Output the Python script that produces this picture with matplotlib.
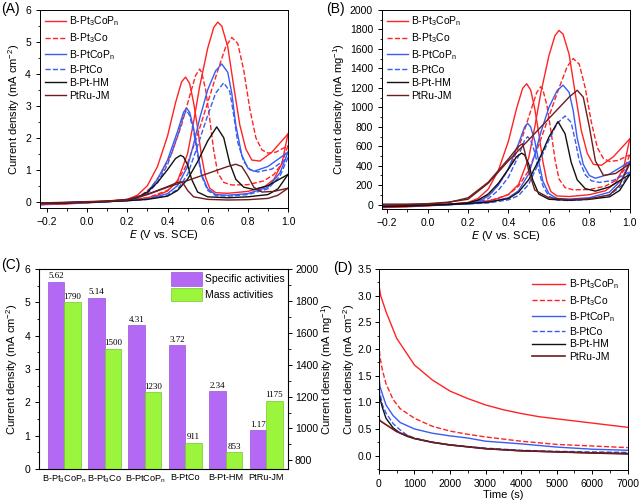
import matplotlib.pyplot as plt
from matplotlib.ticker import AutoMinorLocator, MultipleLocator

plt.rcParams['font.family'] = ['Liberation Sans', 'DejaVu Sans']
plt.rcParams['mathtext.default'] = 'regular'

# ---------------- data ----------------
names = ['B-Pt$_3$CoP$_n$', 'B-Pt$_3$Co', 'B-PtCoP$_n$', 'B-PtCo', 'B-Pt-HM', 'PtRu-JM']
colors = ['#ff2323', '#ff2323', '#3a5cf0', '#3a5cf0', '#111111', '#6e1c1c']
styles = ['-', '--', '-', '--', '-', '-']

# CV forward / reverse scans: potential (V vs. SCE), specific (mA cm-2), mass (mA mg-1)
e_fwd_1 = [-0.23, -0.1, 0.0, 0.1, 0.2, 0.3, 0.35, 0.4, 0.45, 0.5, 0.53, 0.56, 0.6, 0.63, 0.65, 0.67, 0.7, 0.73, 0.76, 0.79, 0.82, 0.86, 0.92, 1.0]
js_fwd_1 = [-0.10, -0.07, -0.04, 0.0, 0.05, 0.12, 0.2, 0.33, 0.65, 1.5, 2.5, 3.6, 4.8, 5.45, 5.62, 5.5, 4.85, 3.6, 2.4, 1.65, 1.3, 1.27, 1.55, 2.12]
jm_fwd_1 = [-32, -22, -13, 0, 16, 38, 64, 105, 207, 478, 796, 1147, 1529, 1736, 1790, 1752, 1545, 1147, 764, 526, 414, 404, 494, 675]
e_rev_1 = [1.0, 0.97, 0.93, 0.88, 0.8, 0.7, 0.64, 0.61, 0.59, 0.57, 0.55, 0.53, 0.51, 0.49, 0.47, 0.44, 0.4, 0.35, 0.3, 0.25, 0.2, 0.1, 0.0, -0.1, -0.23]
js_rev_1 = [2.12, 1.2, 0.7, 0.45, 0.32, 0.26, 0.28, 0.42, 0.75, 1.4, 2.3, 3.1, 3.7, 3.9, 3.75, 3.1, 2.05, 1.1, 0.5, 0.2, 0.07, 0.01, -0.03, -0.06, -0.09]
jm_rev_1 = [675, 382, 223, 143, 102, 83, 89, 134, 239, 446, 733, 987, 1178, 1242, 1194, 987, 653, 350, 159, 64, 22, 3, -10, -19, -29]

e_fwd_2 = [-0.23, -0.1, 0.0, 0.1, 0.2, 0.3, 0.4, 0.45, 0.5, 0.55, 0.6, 0.65, 0.69, 0.72, 0.75, 0.78, 0.81, 0.84, 0.87, 0.9, 0.94, 1.0]
js_fwd_2 = [-0.09, -0.06, -0.03, 0.0, 0.04, 0.12, 0.35, 0.65, 1.2, 2.1, 3.1, 4.1, 4.85, 5.14, 4.95, 4.1, 2.9, 2.0, 1.62, 1.52, 1.55, 1.75]
jm_fwd_2 = [-26, -18, -9, 0, 12, 35, 102, 190, 350, 613, 905, 1197, 1416, 1501, 1445, 1197, 847, 584, 473, 444, 453, 511]
e_rev_2 = [1.0, 0.97, 0.93, 0.88, 0.8, 0.72, 0.68, 0.65, 0.63, 0.61, 0.59, 0.57, 0.56, 0.54, 0.51, 0.47, 0.42, 0.37, 0.32, 0.27, 0.2, 0.1, 0.0, -0.1, -0.23]
js_rev_2 = [1.75, 1.2, 0.85, 0.65, 0.53, 0.52, 0.6, 0.9, 1.6, 2.6, 3.5, 4.05, 4.15, 3.95, 3.3, 2.4, 1.5, 0.9, 0.45, 0.2, 0.06, 0.01, -0.02, -0.05, -0.08]
jm_rev_2 = [511, 350, 248, 190, 155, 152, 175, 263, 467, 759, 1022, 1183, 1212, 1153, 964, 701, 438, 263, 131, 58, 18, 3, -6, -15, -23]

e_fwd_3 = [-0.23, -0.1, 0.0, 0.1, 0.2, 0.3, 0.4, 0.45, 0.5, 0.53, 0.56, 0.6, 0.64, 0.67, 0.7, 0.72, 0.74, 0.77, 0.8, 0.83, 0.9, 1.0]
js_fwd_3 = [-0.08, -0.05, -0.03, 0.0, 0.03, 0.08, 0.25, 0.5, 1.1, 1.8, 2.6, 3.5, 4.1, 4.31, 4.05, 3.4, 2.4, 1.45, 1.05, 0.95, 1.1, 1.55]
jm_fwd_3 = [-23, -14, -9, 0, 9, 23, 71, 143, 314, 513, 741, 998, 1169, 1228, 1154, 969, 684, 413, 299, 271, 314, 442]
e_rev_3 = [1.0, 0.96, 0.9, 0.8, 0.7, 0.64, 0.6, 0.57, 0.55, 0.53, 0.51, 0.495, 0.48, 0.45, 0.4, 0.35, 0.3, 0.25, 0.2, 0.1, 0.0, -0.1, -0.23]
js_rev_3 = [1.55, 0.9, 0.45, 0.25, 0.2, 0.22, 0.4, 0.85, 1.55, 2.3, 2.8, 2.93, 2.8, 2.2, 1.3, 0.7, 0.3, 0.12, 0.04, 0.0, -0.02, -0.04, -0.07]
jm_rev_3 = [442, 257, 128, 71, 57, 63, 114, 242, 442, 656, 798, 835, 798, 627, 371, 200, 86, 34, 11, 0, -6, -11, -20]

e_fwd_4 = [-0.23, -0.1, 0.0, 0.1, 0.2, 0.3, 0.4, 0.45, 0.5, 0.55, 0.6, 0.64, 0.68, 0.71, 0.73, 0.75, 0.78, 0.81, 0.85, 0.92, 1.0]
js_fwd_4 = [-0.07, -0.05, -0.03, 0.0, 0.03, 0.07, 0.2, 0.38, 0.85, 1.75, 2.7, 3.4, 3.72, 3.45, 2.7, 1.85, 1.25, 1.0, 0.93, 1.02, 1.38]
jm_fwd_4 = [-17, -12, -7, 0, 7, 17, 49, 93, 208, 429, 662, 833, 911, 845, 662, 453, 306, 245, 228, 250, 338]
e_rev_4 = [1.0, 0.96, 0.9, 0.8, 0.7, 0.64, 0.6, 0.57, 0.55, 0.53, 0.51, 0.495, 0.48, 0.45, 0.4, 0.35, 0.3, 0.25, 0.2, 0.1, 0.0, -0.1, -0.23]
js_rev_4 = [1.38, 0.8, 0.4, 0.22, 0.17, 0.19, 0.35, 0.8, 1.45, 2.2, 2.7, 2.85, 2.7, 2.05, 1.15, 0.6, 0.25, 0.1, 0.03, 0.0, -0.02, -0.04, -0.06]
jm_rev_4 = [338, 196, 98, 54, 42, 47, 86, 196, 355, 539, 662, 698, 662, 502, 282, 147, 61, 25, 7, 0, -5, -10, -15]

e_fwd_5 = [-0.23, -0.1, 0.0, 0.1, 0.2, 0.3, 0.4, 0.45, 0.5, 0.55, 0.6, 0.645, 0.68, 0.71, 0.74, 0.78, 0.83, 0.9, 1.0]
js_fwd_5 = [-0.06, -0.04, -0.02, 0.0, 0.03, 0.07, 0.17, 0.35, 0.7, 1.25, 1.9, 2.34, 2.0, 1.2, 0.7, 0.45, 0.38, 0.5, 0.85]
jm_fwd_5 = [-22, -15, -7, 0, 11, 26, 62, 128, 255, 456, 693, 853, 729, 437, 255, 164, 139, 182, 310]
e_rev_5 = [1.0, 0.95, 0.9, 0.8, 0.7, 0.6, 0.55, 0.52, 0.5, 0.48, 0.465, 0.44, 0.4, 0.35, 0.3, 0.25, 0.2, 0.1, 0.0, -0.1, -0.23]
js_rev_5 = [0.85, 0.4, 0.22, 0.15, 0.12, 0.15, 0.3, 0.7, 1.15, 1.4, 1.45, 1.35, 1.0, 0.6, 0.3, 0.13, 0.05, 0.01, -0.01, -0.03, -0.05]
jm_rev_5 = [310, 146, 80, 55, 44, 55, 109, 255, 419, 510, 529, 492, 365, 219, 109, 47, 18, 4, -4, -11, -18]

e_fwd_6 = [-0.23, -0.1, 0.0, 0.1, 0.2, 0.3, 0.4, 0.5, 0.6, 0.7, 0.74, 0.77, 0.8, 0.83, 0.87, 0.93, 1.0]
js_fwd_6 = [-0.05, -0.03, -0.01, 0.01, 0.05, 0.22, 0.45, 0.66, 0.88, 1.1, 1.17, 1.1, 0.8, 0.45, 0.3, 0.32, 0.42]
jm_fwd_6 = [5, 5, 10, 25, 55, 220, 450, 665, 885, 1105, 1175, 1105, 800, 450, 300, 320, 420]
e_rev_6 = [1.0, 0.95, 0.9, 0.8, 0.7, 0.6, 0.53, 0.5, 0.48, 0.47, 0.45, 0.4, 0.3, 0.2, 0.1, 0.0, -0.1, -0.23]
js_rev_6 = [0.42, 0.2, 0.1, 0.06, 0.05, 0.07, 0.15, 0.35, 0.55, 0.62, 0.6, 0.47, 0.23, 0.07, 0.02, 0.0, -0.02, -0.04]
jm_rev_6 = [420, 200, 100, 60, 50, 70, 150, 350, 550, 625, 600, 470, 230, 70, 20, 5, 0, -5]

# bar chart values
bar_labels = ['B-Pt$_3$CoP$_n$', 'B-Pt$_3$Co', 'B-PtCoP$_n$', 'B-PtCo', 'B-Pt-HM', 'PtRu-JM']
specific_act = [5.62, 5.14, 4.31, 3.72, 2.34, 1.17]
mass_act = [1790, 1500, 1230, 911, 853, 1175]

# chronoamperometry
t_1 = [0, 50, 200, 500, 1000, 1500, 2000, 2500, 3000, 3500, 4000, 4500, 5000, 5500, 6000, 6500, 7000]
i_1 = [3.2, 3.0, 2.7, 2.2, 1.7, 1.42, 1.21, 1.07, 0.95, 0.86, 0.79, 0.73, 0.69, 0.65, 0.61, 0.57, 0.53]
t_2 = [0, 30, 100, 200, 400, 600, 1000, 1500, 2000, 2500, 3000, 4000, 5000, 6000, 7000]
i_2 = [2.1, 1.85, 1.6, 1.35, 1.05, 0.88, 0.7, 0.55, 0.46, 0.4, 0.35, 0.27, 0.21, 0.18, 0.15]
t_3 = [0, 30, 100, 200, 400, 600, 1000, 1500, 2000, 2500, 3000, 4000, 5000, 6000, 7000]
i_3 = [1.5, 1.3, 1.15, 0.95, 0.75, 0.62, 0.5, 0.42, 0.37, 0.33, 0.27, 0.22, 0.16, 0.12, 0.1]
t_4 = [0, 20, 100, 200, 400, 600, 800, 1000, 1500, 2000, 3000, 4000, 5000, 6000, 7000]
i_4 = [1.4, 1.2, 0.95, 0.8, 0.6, 0.48, 0.38, 0.33, 0.25, 0.2, 0.14, 0.1, 0.08, 0.07, 0.06]
t_5 = [0, 20, 100, 200, 400, 600, 800, 1000, 1500, 2000, 3000, 4000, 5000, 6000, 7000]
i_5 = [1.3, 1.1, 0.9, 0.7, 0.52, 0.42, 0.36, 0.32, 0.25, 0.2, 0.13, 0.09, 0.07, 0.05, 0.04]
t_6 = [0, 20, 200, 500, 1000, 1500, 2000, 3000, 4000, 5000, 6000, 7000]
i_6 = [0.75, 0.66, 0.58, 0.45, 0.32, 0.25, 0.2, 0.13, 0.09, 0.07, 0.05, 0.03]

cv_specific = [
    (e_fwd_1, js_fwd_1, e_rev_1, js_rev_1),
    (e_fwd_2, js_fwd_2, e_rev_2, js_rev_2),
    (e_fwd_3, js_fwd_3, e_rev_3, js_rev_3),
    (e_fwd_4, js_fwd_4, e_rev_4, js_rev_4),
    (e_fwd_5, js_fwd_5, e_rev_5, js_rev_5),
    (e_fwd_6, js_fwd_6, e_rev_6, js_rev_6),
]
cv_mass = [
    (e_fwd_1, jm_fwd_1, e_rev_1, jm_rev_1),
    (e_fwd_2, jm_fwd_2, e_rev_2, jm_rev_2),
    (e_fwd_3, jm_fwd_3, e_rev_3, jm_rev_3),
    (e_fwd_4, jm_fwd_4, e_rev_4, jm_rev_4),
    (e_fwd_5, jm_fwd_5, e_rev_5, jm_rev_5),
    (e_fwd_6, jm_fwd_6, e_rev_6, jm_rev_6),
]
ca_data = [(t_1, i_1), (t_2, i_2), (t_3, i_3), (t_4, i_4), (t_5, i_5), (t_6, i_6)]

FS = 7.5
fig = plt.figure(figsize=(6.4, 5.0), dpi=100)

ax_a = fig.add_axes([0.0625, 0.584, 0.3875, 0.396])
ax_b = fig.add_axes([0.597, 0.582, 0.387, 0.398])
ax_c = fig.add_axes([0.061, 0.062, 0.389, 0.400])
ax_d = fig.add_axes([0.592, 0.060, 0.389, 0.402])


def style_axis(ax):
    ax.tick_params(axis='both', which='major', direction='out', length=3, width=0.7,
                   labelsize=FS, top=False, right=False)
    ax.tick_params(axis='both', which='minor', direction='out', length=1.8, width=0.6,
                   top=False, right=False)
    for sp in ax.spines.values():
        sp.set_linewidth(0.7)


leg_kw = dict(frameon=False, fontsize=FS, handlelength=2.0, labelspacing=0.28,
              borderaxespad=0.15, handletextpad=0.35, borderpad=0.3)

# ---- (A) specific activity CVs ----
for (ef, jf, er, jr), c, ls, lab in zip(cv_specific, colors, styles, names):
    ax_a.plot(ef, jf, color=c, ls=ls, lw=1.0, label=lab)
    ax_a.plot(er, jr, color=c, ls=ls, lw=1.0)
ax_a.set_xlim(-0.235, 1.0)
ax_a.set_ylim(-0.2, 6)
ax_a.xaxis.set_major_locator(MultipleLocator(0.2))
ax_a.xaxis.set_minor_locator(AutoMinorLocator(2))
ax_a.yaxis.set_major_locator(MultipleLocator(1))
ax_a.yaxis.set_minor_locator(AutoMinorLocator(2))
ax_a.set_xlabel('$\\mathit{E}$ (V vs. SCE)', fontsize=8, labelpad=1)
ax_a.set_ylabel('Current density (mA cm$^{-2}$)', fontsize=8, labelpad=2)
style_axis(ax_a)
ax_a.legend(loc='upper left', **leg_kw)

# ---- (B) mass activity CVs ----
for (ef, jf, er, jr), c, ls, lab in zip(cv_mass, colors, styles, names):
    ax_b.plot(ef, jf, color=c, ls=ls, lw=1.0, label=lab)
    ax_b.plot(er, jr, color=c, ls=ls, lw=1.0)
ax_b.set_xlim(-0.225, 1.0)
ax_b.set_ylim(-45, 2000)
ax_b.xaxis.set_major_locator(MultipleLocator(0.2))
ax_b.xaxis.set_minor_locator(AutoMinorLocator(2))
ax_b.yaxis.set_major_locator(MultipleLocator(200))
ax_b.yaxis.set_minor_locator(AutoMinorLocator(2))
ax_b.set_xlabel('$\\mathit{E}$ (V vs. SCE)', fontsize=8, labelpad=1)
ax_b.set_ylabel('Current density (mA mg$^{-1}$)', fontsize=8, labelpad=2)
style_axis(ax_b)
ax_b.legend(loc='upper left', **leg_kw)

# ---- (C) bar chart ----
xs = list(range(len(bar_labels)))
w = 0.41
ax_c2 = ax_c.twinx()
bars_s = ax_c.bar([x - w / 2 for x in xs], specific_act, width=w, color='#b469f5',
                  edgecolor='#9a52d8', linewidth=0.5, label='Specific activities')
bars_m = ax_c2.bar([x + w / 2 for x in xs], mass_act, width=w, color='#9af53c',
                   edgecolor='#74c82a', linewidth=0.5, label='Mass activities')
ax_c.set_xlim(-0.62, 5.54)
ax_c.set_ylim(0, 6)
ax_c2.set_ylim(746, 2000)
ax_c2.set_zorder(ax_c.get_zorder() + 1)
ax_c2.patch.set_visible(False)
for b, v in zip(bars_s, specific_act):
    ax_c.text(b.get_x() + b.get_width() / 2, v + 0.04, f'{v:.2f}', ha='center', va='bottom',
              fontsize=6.5, family='Liberation Serif')
for b, v in zip(bars_m, mass_act):
    ax_c2.text(b.get_x() + b.get_width() / 2, v + 8, f'{v}', ha='center', va='bottom',
               fontsize=6.5, family='Liberation Serif')
ax_c.set_xticks(xs)
ax_c.set_xticklabels(bar_labels)
ax_c.yaxis.set_major_locator(MultipleLocator(1))
ax_c.yaxis.set_minor_locator(AutoMinorLocator(2))
ax_c2.yaxis.set_major_locator(MultipleLocator(200))
ax_c2.yaxis.set_minor_locator(AutoMinorLocator(2))
ax_c.set_ylabel('Current density (mA cm$^{-2}$)', fontsize=8, labelpad=3)
ax_c2.set_ylabel('Current density (mA mg$^{-1}$)', fontsize=8, labelpad=1)
style_axis(ax_c)
ax_c.tick_params(axis='x', which='both', labelsize=6.6, length=0, pad=3)
ax_c2.tick_params(axis='y', which='major', direction='out', length=3, width=0.7, labelsize=FS, pad=2)
ax_c2.tick_params(axis='y', which='minor', direction='out', length=1.8, width=0.6)
ax_c2.legend([bars_s, bars_m], ['Specific activities', 'Mass activities'], loc='upper right',
             fontsize=7.5, frameon=False, handlelength=3.0, handleheight=1.6,
             labelspacing=0.2, borderaxespad=0.1, handletextpad=0.3, borderpad=0.2)

# ---- (D) chronoamperometry ----
for (t, i), c, ls, lab in zip(ca_data, colors, styles, names):
    ax_d.plot(t, i, color=c, ls=ls, lw=1.2 if i is i_6 else 1.0, label=lab)
ax_d.set_xlim(0, 7000)
ax_d.set_ylim(-0.27, 3.5)
ax_d.xaxis.set_major_locator(MultipleLocator(1000))
ax_d.xaxis.set_minor_locator(AutoMinorLocator(2))
ax_d.yaxis.set_major_locator(MultipleLocator(0.5))
ax_d.yaxis.set_minor_locator(AutoMinorLocator(2))
ax_d.set_xlabel('Time (s)', fontsize=8, labelpad=1)
ax_d.set_ylabel('Current density (mA cm$^{-2}$)', fontsize=8, labelpad=0)
style_axis(ax_d)
ax_d.tick_params(axis='y', pad=2)
ax_d.legend(loc='upper right', frameon=False, fontsize=FS, handlelength=3.2,
            labelspacing=0.25, borderaxespad=0.4, handletextpad=0.4)

# panel letters
fig.text(0.002, 0.995, '(A)', fontsize=10, va='top', ha='left')
fig.text(0.51, 0.995, '(B)', fontsize=10, va='top', ha='left')
fig.text(0.002, 0.485, '(C)', fontsize=10, va='top', ha='left')
fig.text(0.52, 0.478, '(D)', fontsize=10, va='top', ha='left')

fig.savefig('out.png', dpi=100, facecolor='white')
